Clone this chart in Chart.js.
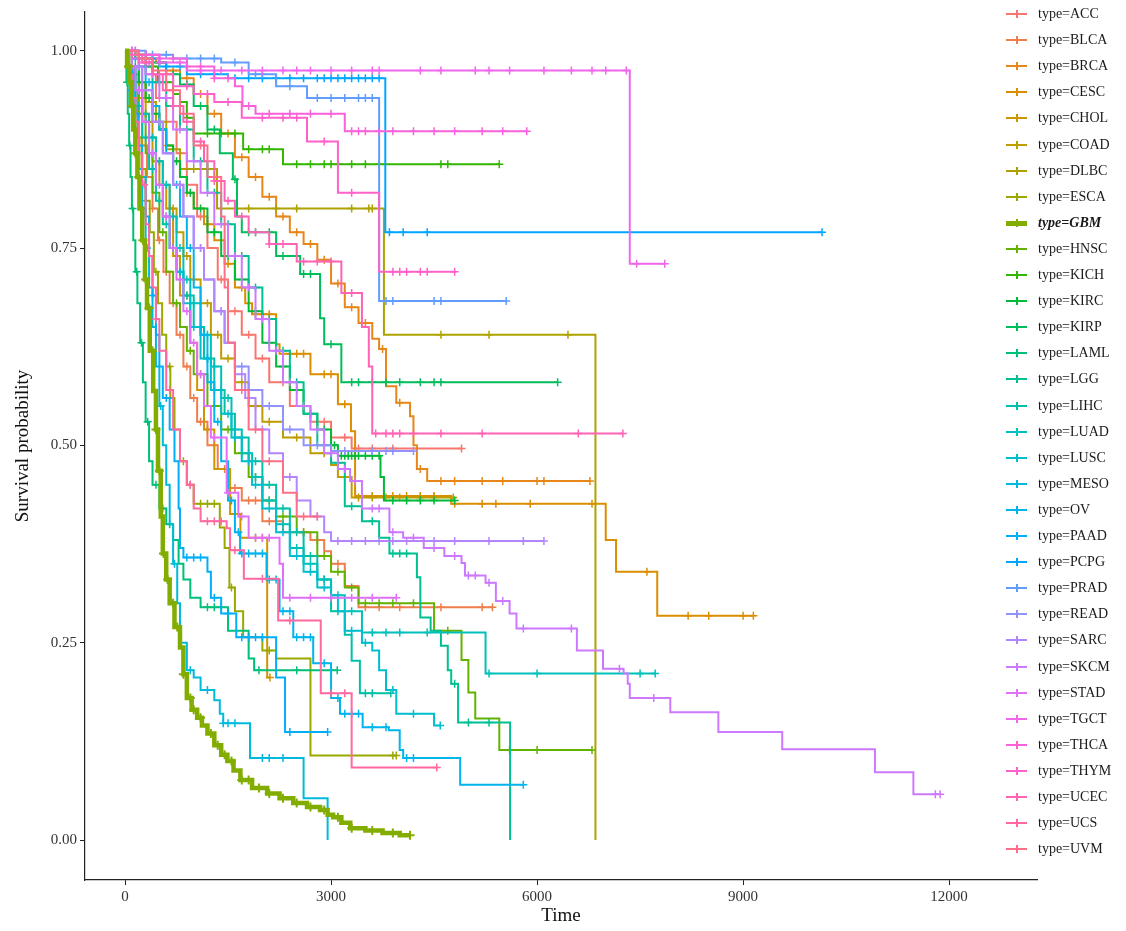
<!DOCTYPE html>
<html>
<head>
<meta charset="utf-8">
<script src="https://cdn.jsdelivr.net/npm/chart.js@4.4.1/dist/chart.umd.min.js"></script>
<style>
  body { margin: 0; background: #fff; }
  #wrap { position: relative; width: 1126px; height: 931px; }
  #legend { position: absolute; left: 1006px; top: 0; font-family: 'Liberation Serif', 'Times New Roman', serif; font-size: 14px; color: #1a1a1a; }
  .item { position: absolute; left: 0; height: 26px; display: flex; align-items: center; white-space: nowrap; }
  .key { position: relative; width: 21px; height: 10px; margin-right: 11px; }
  .key .h { position: absolute; left: 0; right: 0; top: 4px; height: 2px; }
  .key .v { position: absolute; left: 10px; width: 1.5px; top: 1px; height: 8px; }
  .bold { font-weight: bold; font-style: italic; }
</style>
</head>
<body>
<div id="wrap">
  <canvas id="km" width="1126" height="931"></canvas>
  <div id="legend"></div>
</div>
<script>
// survival curves: [time, survival after the event]
const ACC  = [[0,1],[150,0.99],[300,0.97],[450,0.94],[600,0.91],[750,0.87],[900,0.83],[1050,0.79],[1200,0.75],[1350,0.71],[1500,0.67],[1700,0.64],[1900,0.61],[2100,0.58],[2400,0.55],[2700,0.53],[3000,0.51],[3300,0.496]];
const BLCA = [[0,1],[60,0.98],[120,0.95],[180,0.92],[250,0.88],[320,0.84],[400,0.80],[480,0.76],[560,0.72],[650,0.68],[750,0.64],[850,0.60],[950,0.56],[1050,0.53],[1200,0.50],[1350,0.47],[1500,0.446],[1700,0.43],[2000,0.404],[2300,0.39],[2700,0.38],[2900,0.366],[3000,0.35],[3200,0.322],[3400,0.295]];
const BRCA = [[0,1],[150,0.995],[300,0.99],[450,0.985],[600,0.975],[800,0.965],[1000,0.945],[1200,0.92],[1400,0.895],[1600,0.865],[1800,0.84],[2000,0.815],[2200,0.79],[2400,0.77],[2600,0.755],[2800,0.735],[3000,0.705],[3200,0.675],[3400,0.655],[3600,0.635],[3700,0.622],[3800,0.575],[3950,0.554],[4150,0.537],[4200,0.50],[4250,0.47],[4400,0.455]];
const CESC = [[0,1],[100,0.98],[200,0.96],[300,0.94],[400,0.92],[500,0.90],[600,0.88],[700,0.86],[800,0.84],[900,0.82],[1000,0.80],[1150,0.78],[1300,0.76],[1450,0.73],[1600,0.70],[1750,0.68],[1850,0.666],[2200,0.628],[2250,0.616],[2700,0.59],[3100,0.552],[3290,0.518],[3350,0.436],[4750,0.426],[7000,0.38],[7150,0.34],[7750,0.284]];
const CHOL = [[0,1],[100,0.97],[200,0.94],[300,0.91],[400,0.86],[500,0.83],[600,0.80],[700,0.74],[800,0.69],[950,0.63],[1050,0.57],[1150,0.52],[1300,0.47],[1530,0.413],[1680,0.383],[2070,0.206]];
const COAD = [[0,1],[50,0.98],[150,0.95],[250,0.92],[350,0.89],[450,0.86],[550,0.83],[650,0.80],[750,0.77],[850,0.74],[950,0.71],[1100,0.68],[1250,0.64],[1400,0.61],[1600,0.58],[1800,0.55],[2000,0.53],[2300,0.51],[2700,0.49],[3000,0.475],[3100,0.46],[3300,0.434]];
const DLBC = [[0,1],[100,0.98],[200,0.96],[300,0.935],[450,0.91],[600,0.875],[800,0.85],[1340,0.80],[3770,0.64],[6850,0]];
const ESCA = [[0,1],[60,0.97],[120,0.93],[180,0.89],[240,0.85],[300,0.81],[360,0.77],[420,0.72],[480,0.68],[540,0.64],[600,0.60],[660,0.56],[720,0.52],[800,0.48],[900,0.45],[1000,0.426],[1380,0.396],[1450,0.37],[1520,0.32],[1600,0.29],[1720,0.257],[2000,0.24],[2200,0.23],[2700,0.107]];
const GBM  = [[0,1],[30,0.98],[60,0.96],[90,0.93],[120,0.90],[150,0.87],[180,0.84],[210,0.80],[250,0.76],[290,0.71],[320,0.674],[360,0.62],[410,0.569],[450,0.52],[480,0.468],[520,0.41],[550,0.363],[600,0.33],[650,0.30],[720,0.27],[800,0.244],[850,0.21],[900,0.18],[970,0.165],[1050,0.155],[1120,0.145],[1200,0.135],[1300,0.12],[1400,0.108],[1490,0.10],[1580,0.088],[1680,0.076],[1850,0.066],[2070,0.059],[2250,0.053],[2450,0.047],[2650,0.042],[2840,0.038],[2950,0.032],[3030,0.029],[3150,0.022],[3280,0.015],[3500,0.012],[3750,0.009],[4000,0.006]];
const HNSC = [[0,1],[50,0.98],[100,0.96],[200,0.92],[300,0.87],[400,0.82],[500,0.77],[600,0.72],[700,0.68],[800,0.65],[900,0.62],[1000,0.59],[1200,0.55],[1400,0.52],[1600,0.49],[1800,0.46],[2000,0.43],[2200,0.41],[2500,0.39],[2800,0.36],[3000,0.34],[3200,0.32],[3400,0.30],[4500,0.265],[4900,0.228],[5000,0.187],[5100,0.154],[5450,0.114]];
const KICH = [[0,1],[150,0.99],[300,0.98],[480,0.96],[700,0.945],[800,0.935],[900,0.915],[1000,0.895],[1720,0.875],[2300,0.856]];
const KIRC = [[0,1],[100,0.98],[200,0.96],[300,0.94],[400,0.92],[500,0.90],[600,0.88],[700,0.86],[800,0.84],[900,0.82],[1000,0.80],[1200,0.77],[1400,0.74],[1600,0.71],[1800,0.67],[2000,0.63],[2200,0.60],[2400,0.57],[2600,0.54],[2800,0.52],[3000,0.50],[3100,0.487],[3720,0.46],[3770,0.43]];
const KIRP = [[0,1],[200,0.995],[400,0.985],[600,0.97],[800,0.957],[1000,0.93],[1200,0.90],[1380,0.87],[1570,0.837],[1630,0.79],[1700,0.77],[2200,0.74],[2550,0.717],[2840,0.661],[2900,0.628],[3150,0.58]];
const LAML = [[0,1],[20,0.96],[40,0.92],[60,0.88],[80,0.84],[100,0.80],[120,0.76],[150,0.72],[180,0.68],[220,0.63],[260,0.58],[300,0.53],[350,0.48],[400,0.45],[500,0.42],[600,0.40],[700,0.38],[780,0.35],[850,0.33],[950,0.307],[1100,0.295],[1500,0.265],[1800,0.23],[1880,0.215]];
const LGG  = [[0,1],[100,0.99],[200,0.98],[400,0.96],[600,0.93],[800,0.90],[1000,0.86],[1200,0.82],[1400,0.78],[1600,0.74],[1800,0.70],[2000,0.66],[2200,0.62],[2400,0.58],[2600,0.54],[2800,0.50],[3000,0.478],[3200,0.423],[3450,0.404],[3700,0.383],[3850,0.363],[4250,0.333],[4300,0.282],[4450,0.265],[4600,0.246],[4700,0.215],[4750,0.198],[4850,0.149],[5607,0]];
const LIHC = [[0,1],[50,0.97],[150,0.93],[250,0.89],[350,0.85],[450,0.81],[550,0.78],[650,0.75],[750,0.72],[850,0.69],[1000,0.65],[1150,0.61],[1300,0.57],[1450,0.54],[1600,0.51],[1800,0.48],[2000,0.45],[2200,0.42],[2400,0.39],[2600,0.36],[2800,0.33],[3000,0.29],[3200,0.26],[3300,0.227],[3420,0.186]];
const LUAD = [[0,1],[50,0.98],[150,0.95],[250,0.92],[350,0.89],[450,0.86],[550,0.83],[650,0.79],[750,0.75],[850,0.71],[950,0.68],[1100,0.64],[1250,0.60],[1400,0.56],[1550,0.52],[1700,0.49],[1850,0.46],[2000,0.43],[2200,0.40],[2400,0.37],[2600,0.35],[2800,0.33],[3000,0.31],[3200,0.29],[3450,0.263],[5250,0.211]];
const LUSC = [[0,1],[50,0.98],[150,0.95],[250,0.91],[350,0.87],[450,0.83],[550,0.79],[650,0.75],[750,0.72],[850,0.68],[950,0.65],[1100,0.61],[1250,0.57],[1400,0.54],[1550,0.51],[1700,0.48],[1850,0.45],[2000,0.42],[2200,0.39],[2400,0.36],[2600,0.34],[2800,0.32],[3000,0.31],[3100,0.29],[3200,0.265],[3450,0.25],[3600,0.24],[3700,0.215],[3800,0.19],[3950,0.16],[4500,0.145]];
const MESO = [[0,1],[50,0.97],[100,0.93],[150,0.89],[200,0.85],[250,0.80],[300,0.75],[350,0.70],[400,0.65],[450,0.60],[500,0.55],[550,0.50],[600,0.45],[650,0.40],[700,0.35],[760,0.30],[800,0.25],[900,0.215],[1000,0.206],[1100,0.19],[1300,0.177],[1380,0.16],[1430,0.148],[1820,0.104],[2600,0.053],[2950,0]];
const OV   = [[0,1],[100,0.99],[200,0.98],[300,0.96],[400,0.93],[500,0.90],[600,0.87],[700,0.83],[800,0.79],[900,0.75],[1000,0.70],[1100,0.64],[1200,0.58],[1300,0.53],[1400,0.48],[1500,0.43],[1600,0.39],[1675,0.363],[2060,0.33],[2250,0.29],[2450,0.257],[2740,0.224],[3000,0.18],[3130,0.16],[3460,0.143],[3840,0.139],[4000,0.114],[4050,0.104],[4880,0.07]];
const PAAD = [[0,1],[50,0.98],[100,0.95],[150,0.92],[200,0.88],[250,0.84],[300,0.79],[350,0.74],[400,0.69],[450,0.64],[500,0.60],[550,0.56],[650,0.52],[720,0.48],[780,0.42],[800,0.37],[850,0.358],[1200,0.34],[1250,0.307],[1400,0.287],[1620,0.257],[2200,0.206],[2330,0.137]];
const PCPG = [[0,1],[200,0.99],[500,0.98],[900,0.97],[1500,0.965],[3790,0.77]];
const PRAD = [[0,1],[300,0.995],[700,0.99],[1400,0.985],[1800,0.97],[2200,0.955],[2650,0.94],[3700,0.683]];
const READ = [[0,1],[100,0.98],[250,0.95],[400,0.91],[550,0.87],[700,0.83],[850,0.79],[1000,0.75],[1150,0.71],[1300,0.67],[1450,0.63],[1600,0.60],[1800,0.57],[2000,0.55],[2300,0.52],[2600,0.50],[3000,0.493]];
const SARC = [[0,1],[100,0.98],[250,0.95],[400,0.91],[550,0.87],[700,0.83],[850,0.79],[1000,0.75],[1150,0.71],[1300,0.67],[1450,0.63],[1600,0.59],[1750,0.56],[1900,0.52],[2100,0.49],[2300,0.46],[2500,0.43],[2700,0.41],[2900,0.39],[3000,0.379]];
const SKCM = [[0,1],[100,0.99],[300,0.97],[500,0.94],[700,0.90],[900,0.86],[1100,0.82],[1300,0.78],[1500,0.74],[1700,0.70],[1900,0.66],[2100,0.62],[2300,0.58],[2500,0.55],[2700,0.52],[2900,0.49],[3100,0.47],[3277,0.455],[3450,0.42],[3850,0.39],[4050,0.383],[4350,0.37],[4650,0.36],[4900,0.351],[4950,0.335],[5250,0.326],[5400,0.303],[5600,0.287],[5700,0.268],[6580,0.24],[6960,0.217],[7260,0.211],[7320,0.198],[7350,0.18],[7940,0.162],[8640,0.137],[9570,0.115],[10920,0.086],[11480,0.058]];
const STAD = [[0,1],[50,0.98],[150,0.95],[250,0.91],[350,0.87],[450,0.83],[550,0.79],[650,0.75],[750,0.71],[850,0.67],[950,0.63],[1050,0.59],[1150,0.55],[1250,0.51],[1480,0.44],[1650,0.41],[1800,0.383],[2250,0.35],[2300,0.307]];
const TGCT = [[0,1],[200,0.995],[500,0.985],[900,0.975],[7350,0.73]];
const THCA = [[0,1],[200,0.995],[500,0.99],[900,0.98],[1300,0.965],[1600,0.955],[1710,0.93],[1900,0.92],[3200,0.898]];
const THYM = [[0,1],[200,0.985],[400,0.97],[700,0.955],[1000,0.945],[1300,0.935],[1700,0.915],[2650,0.885],[3100,0.82],[3700,0.72]];
const UCEC = [[0,1],[100,0.995],[250,0.985],[400,0.97],[550,0.95],[700,0.93],[850,0.91],[1000,0.885],[1150,0.86],[1300,0.835],[1450,0.81],[1600,0.79],[1800,0.77],[2100,0.755],[2500,0.733],[3150,0.693],[3450,0.65],[3550,0.60],[3600,0.515]];
const UCS  = [[0,1],[50,0.97],[100,0.94],[150,0.91],[200,0.87],[250,0.83],[300,0.78],[350,0.74],[400,0.70],[450,0.66],[500,0.62],[600,0.57],[700,0.52],[800,0.48],[900,0.45],[1000,0.42],[1100,0.404],[1480,0.395],[1530,0.367],[1730,0.331],[2230,0.278],[2850,0.186],[3300,0.092]];
const UVM  = [[0,1],[200,0.99],[400,0.975],[600,0.95],[800,0.92],[1000,0.88],[1200,0.84],[1400,0.79],[1450,0.70],[1500,0.63],[1600,0.57],[1800,0.52],[2000,0.48],[2300,0.44],[2500,0.41]];

// censoring times (last one = end of follow-up)
const ACC_cens  = [200,500,800,1100,1400,1600,1800,2000,2300,2600,2900,3200,3400,3600,3900,4900];
const BLCA_cens = [100,200,300,400,500,600,700,800,900,1000,1100,1300,1450,1600,1800,1900,2100,2400,2600,2800,3100,3500,3700,4000,4600,5200,5350];
const BRCA_cens = [300,500,700,900,1100,1300,1500,1700,1900,2100,2300,2500,2700,2900,3100,3300,3500,3750,4000,4300,4600,4800,5200,5500,6000,6100,6770];
const CESC_cens = [300,600,900,1200,1500,1700,1900,2000,2100,2400,2500,2600,2900,3000,3200,3600,3900,4100,4300,4500,4800,5200,5400,5900,6800,7600,8200,8500,9000,9150];
const CHOL_cens = [150,350,650,900,1200,1600,1900,2000,2110];
const COAD_cens = [100,300,500,700,900,1000,1200,1350,1500,1700,1900,2100,2500,2900,3400,3600,3800,4000,4300,4500,4780];
const DLBC_cens = [1000,1200,1800,2200,2500,3300,3550,3600,4600,5300,6450];
const ESCA_cens = [100,200,300,450,650,850,950,1100,1200,1300,1550,1800,2100,3900,3950];
const GBM_cens  = [50,100,150,200,260,300,350,400,450,500,560,620,700,760,850,950,1000,1100,1250,1350,1450,1550,1700,1800,1950,2100,2300,2500,2700,2900,3100,3300,3600,3900,4150];
const HNSC_cens = [150,350,550,750,950,1100,1300,1500,1700,1900,2100,2300,2600,2900,3100,3300,3500,3700,3900,4200,4700,5600,6000,6800];
const KICH_cens = [200,400,600,900,1200,1400,1600,1800,2000,2100,2500,2700,2900,3000,3100,3300,3500,3700,4600,4700,5450];
const KIRC_cens = [150,350,550,750,950,1100,1300,1500,1700,1900,2100,2300,2500,2700,2900,3050,3150,3200,3250,3300,3350,3400,3500,3600,3700,3900,4100,4300,4500,4800];
const KIRP_cens = [300,500,700,900,1100,1300,1600,1800,1900,2100,2300,2600,2700,3000,3300,3400,3600,3800,4000,4300,4500,4600,6300];
const LAML_cens = [30,70,110,170,240,330,450,550,650,1200,1300,1400,1950,2500,3090];
const LGG_cens  = [300,500,700,900,1100,1300,1500,1700,1900,2100,2300,2500,2700,2900,3100,3300,3600,3900,4000,4100,4800,5000,5300];
const LIHC_cens = [100,200,300,400,500,600,700,800,900,1100,1200,1400,1700,1900,2100,2300,2500,2700,2900,3100,3500,3600,3870];
const LUAD_cens = [100,200,300,400,500,600,700,800,900,1000,1200,1300,1500,1600,1800,1900,2100,2300,2500,2700,2900,3100,3300,3600,3800,4000,4400,5300,6000,7500,7720];
const LUSC_cens = [100,200,300,400,600,800,1000,1200,1300,1500,1600,1800,1900,2100,2300,2500,2700,2900,3300,3500,3900,4200,4590];
const MESO_cens = [120,320,520,720,950,1200,1430,1500,1600,2000,2100,2300];
const OV_cens   = [150,350,550,750,950,1150,1350,1550,1650,1700,1800,1900,2000,2100,2200,2300,2400,2500,2600,2700,2900,3100,3200,3300,3400,3600,3800,4100,4200,5800];
const PAAD_cens = [100,250,400,600,900,1000,1100,1300,1500,1700,1800,1900,2000,2400,2950];
const PCPG_cens = [100,300,600,800,1100,1300,1600,1800,2000,2200,2400,2600,2800,2900,3000,3100,3200,3300,3400,3500,3600,3700,3850,4050,4400,10150];
const PRAD_cens = [150,400,600,900,1100,1300,1600,1900,2000,2400,2800,3000,3200,3400,3500,3600,3800,3900,4500,4600,5550];
const READ_cens = [200,500,800,1100,1400,1700,2100,2400,2800,3200,3600,3800,3900,4200];
const SARC_cens = [200,500,800,1100,1400,1700,2000,2400,2800,3100,3300,3500,3700,3900,4100,4500,4800,5300,5800,6100];
const SKCM_cens = [200,400,600,800,1000,1200,1400,1600,1800,2000,2200,2400,2600,2800,3000,3200,3350,3600,3700,3900,4200,4500,4800,5000,5100,5300,5500,5800,6500,7200,7700,11800,11870];
const STAD_cens = [100,200,300,400,500,600,700,800,900,1000,1100,1300,1500,1700,1900,2000,2100,2400,2700,3000,3300,3600,3950];
const TGCT_cens = [100,300,500,800,1100,1400,1700,2000,2300,2500,2700,3000,3300,3600,3700,4300,4600,5100,5300,5600,6100,6500,6800,7000,7300,7450,7860];
const THCA_cens = [100,300,500,700,900,1100,1300,1500,1800,2100,2400,2700,3000,3300,3400,3500,3700,3900,4200,4500,4800,5200,5500,5850];
const THYM_cens = [150,350,600,900,1200,1500,2000,2300,2500,2900,3300,3900,4000,4100,4300,4400,4800];
const UCEC_cens = [100,300,500,700,900,1100,1300,1500,1700,1900,2100,2300,2600,2800,3000,3300,3650,3800,3900,4000,4200,4600,5200,6600,7250];
const UCS_cens  = [120,280,450,650,950,1200,1300,1400,1600,2000,2400,3000,3200,4540];
const UVM_cens  = [300,700,1100,1300,1700,1900,2100,2600,2800];

const types = ['ACC','BLCA','BRCA','CESC','CHOL','COAD','DLBC','ESCA','GBM','HNSC','KICH','KIRC','KIRP','LAML','LGG','LIHC','LUAD','LUSC','MESO','OV','PAAD','PCPG','PRAD','READ','SARC','SKCM','STAD','TGCT','THCA','THYM','UCEC','UCS','UVM'];
const curves = { ACC, BLCA, BRCA, CESC, CHOL, COAD, DLBC, ESCA, GBM, HNSC, KICH, KIRC, KIRP, LAML, LGG, LIHC, LUAD, LUSC, MESO, OV, PAAD, PCPG, PRAD, READ, SARC, SKCM, STAD, TGCT, THCA, THYM, UCEC, UCS, UVM };
const censors = { ACC: ACC_cens, BLCA: BLCA_cens, BRCA: BRCA_cens, CESC: CESC_cens, CHOL: CHOL_cens, COAD: COAD_cens, DLBC: DLBC_cens, ESCA: ESCA_cens, GBM: GBM_cens, HNSC: HNSC_cens, KICH: KICH_cens, KIRC: KIRC_cens, KIRP: KIRP_cens, LAML: LAML_cens, LGG: LGG_cens, LIHC: LIHC_cens, LUAD: LUAD_cens, LUSC: LUSC_cens, MESO: MESO_cens, OV: OV_cens, PAAD: PAAD_cens, PCPG: PCPG_cens, PRAD: PRAD_cens, READ: READ_cens, SARC: SARC_cens, SKCM: SKCM_cens, STAD: STAD_cens, TGCT: TGCT_cens, THCA: THCA_cens, THYM: THYM_cens, UCEC: UCEC_cens, UCS: UCS_cens, UVM: UVM_cens };
const highlight = 'GBM';

const xTicks = [0, 3000, 6000, 9000, 12000];
const yTicks = [0, 0.25, 0.5, 0.75, 1];

// ggplot-like hue palette (hcl, c=100, l=65)
function hcl(h, c, l) {
  const hr = h * Math.PI / 180;
  const U = c * Math.cos(hr), V = c * Math.sin(hr);
  const Xn = 95.047, Yn = 100, Zn = 108.883;
  const den = Xn + 15 * Yn + 3 * Zn;
  const un = 4 * Xn / den, vn = 9 * Yn / den;
  const Y = Yn * (l > 8 ? Math.pow((l + 16) / 116, 3) : l / 903.3);
  const u = U / (13 * l) + un, v = V / (13 * l) + vn;
  const X = Y * 9 * u / (4 * v);
  const Z = Y * (12 - 3 * u - 20 * v) / (4 * v);
  const gam = t => t > 0.0031308 ? 1.055 * Math.pow(t, 1 / 2.4) - 0.055 : 12.92 * t;
  const x = X / 100, y = Y / 100, z = Z / 100;
  const rgb = [
     3.240479 * x - 1.537150 * y - 0.498535 * z,
    -0.969256 * x + 1.875992 * y + 0.041556 * z,
     0.055648 * x - 0.204043 * y + 1.057311 * z
  ].map(t => Math.round(255 * Math.min(1, Math.max(0, gam(t)))));
  return `rgb(${rgb.join(',')})`;
}
const colors = types.map((_, i) => hcl(15 + i * 360 / types.length, 100, 65));

function survAt(km, t) {
  let s = 1;
  for (const [tt, ss] of km) { if (tt <= t) s = ss; else break; }
  return s;
}
function buildPoints(km, cens) {
  const pts = km.map(([t, s]) => ({ x: t, y: s, c: 0 }));
  cens.forEach(t => pts.push({ x: t, y: survAt(km, t), c: 1 }));
  pts.sort((a, b) => a.x - b.x || a.c - b.c);
  return pts;
}

const datasets = types.map((name, i) => {
  const big = name === highlight;
  return {
    label: 'type=' + name,
    data: buildPoints(curves[name], censors[name]),
    borderColor: colors[i],
    backgroundColor: colors[i],
    borderWidth: big ? 4.5 : 2,
    stepped: 'before',
    pointStyle: 'cross',
    pointRadius: ctx => ctx.raw && ctx.raw.c ? (big ? 4.5 : 4) : 0,
    pointBorderWidth: big ? 2 : 1.5,
    pointBorderColor: colors[i],
    pointHoverRadius: 0,
    order: big ? -1 : types.length - i
  };
});

const serif = "'Liberation Serif', 'Times New Roman', serif";

new Chart(document.getElementById('km'), {
  type: 'line',
  data: { datasets },
  options: {
    responsive: false,
    animation: false,
    devicePixelRatio: 1,
    layout: { padding: { left: 0, top: 10, right: 89, bottom: 0 } },
    plugins: { legend: { display: false }, tooltip: { enabled: false } },
    events: [],
    scales: {
      x: {
        type: 'linear',
        min: -583,
        max: 13280,
        afterBuildTicks: s => { s.ticks = xTicks.map(v => ({ value: v })); },
        afterFit: s => { s.height = 51; },
        ticks: { font: { family: serif, size: 15 }, color: '#333', padding: 3, maxRotation: 0, callback: v => String(v) },
        grid: { display: true, drawOnChartArea: false, drawTicks: true, tickLength: 5, color: '#222', lineWidth: 1 },
        border: { display: true, color: '#222', width: 1.2 },
        title: { display: true, text: 'Time', font: { family: serif, size: 19 }, color: '#111', padding: { top: 0, bottom: 4 } }
      },
      y: {
        type: 'linear',
        min: -0.0506,
        max: 1.049,
        afterBuildTicks: s => { s.ticks = yTicks.map(v => ({ value: v })); },
        afterFit: s => { s.width = 85; },
        ticks: { font: { family: serif, size: 15 }, color: '#333', padding: 3, callback: v => v.toFixed(2) },
        grid: { display: true, drawOnChartArea: false, drawTicks: true, tickLength: 5, color: '#222', lineWidth: 1 },
        border: { display: true, color: '#222', width: 1.2 },
        title: { display: true, text: 'Survival probability', font: { family: serif, size: 19 }, color: '#111', padding: { top: 12, bottom: 0 } }
      }
    }
  }
});

// legend in the ggplot style: line with a cross, one entry per row
const legend = document.getElementById('legend');
types.forEach((name, i) => {
  const big = name === highlight;
  const item = document.createElement('div');
  item.className = 'item';
  item.style.top = (1 + i * 26.1) + 'px';
  item.innerHTML = `<span class="key"><span class="h" style="background:${colors[i]};${big ? 'height:5px;top:3px;' : ''}"></span>` +
    `<span class="v" style="background:${colors[i]}"></span></span>` +
    `<span class="${big ? 'bold' : ''}">type=${name}</span>`;
  legend.appendChild(item);
});
</script>
</body>
</html>
